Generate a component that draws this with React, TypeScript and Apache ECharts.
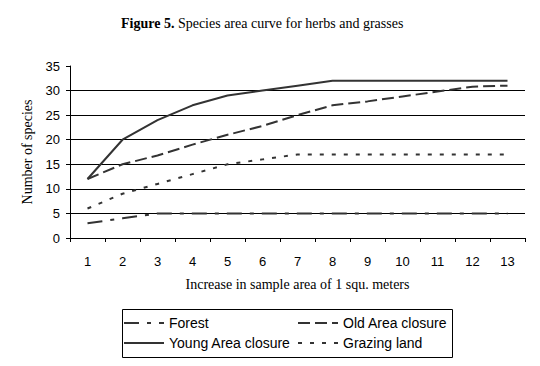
import React, { useEffect, useRef } from "react";
import * as echarts from "echarts";

const categories = ["1", "2", "3", "4", "5", "6", "7", "8", "9", "10", "11", "12", "13"];
const forest = [3, 4, 5, 5, 5, 5, 5, 5, 5, 5, 5, 5, 5];
const oldArea = [12, 15, 16.8, 19, 21, 22.8, 25, 27, 27.8, 28.8, 29.8, 30.8, 31];
const youngArea = [12, 20, 24, 27, 29, 30, 31, 32, 32, 32, 32, 32, 32];
const grazing = [6, 9, 11, 13, 15, 16, 17, 17, 17, 17, 17, 17, 17];
const yTicks = { min: 0, max: 35, interval: 5 };

const serif = "'Liberation Serif', 'Times New Roman', serif";
const sans = "'Liberation Sans', Arial, sans-serif";

export default function App() {
  const ref = useRef<HTMLDivElement>(null);
  useEffect(() => {
    if (!ref.current) return;
    const chart = echarts.init(ref.current, null, { renderer: "svg" });
    const mkSeries = (name: string, data: number[], type: any) => ({
      name,
      type: "line",
      data,
      symbol: "none",
      showSymbol: false,
      itemStyle: { color: "#333" },
      lineStyle: { color: "#333", width: 2, type },
    });
    const legendBase = {
      orient: "horizontal",
      padding: 0,
      itemWidth: 40,
      itemHeight: 14,
      itemStyle: { opacity: 0 },
      textStyle: { fontFamily: sans, fontSize: 14, color: "#000" },
    };
    chart.setOption({
      animation: false,
      backgroundColor: "#fff",
      title: {
        text: "{b|Figure 5.} {n|Species area curve for herbs and grasses}",
        left: 121,
        top: 16,
        padding: 0,
        textStyle: {
          fontWeight: "normal",
          fontFamily: serif,
          fontSize: 14,
          color: "#000",
          rich: {
            b: { fontFamily: serif, fontSize: 14, fontWeight: "bold", color: "#000" },
            n: { fontFamily: serif, fontSize: 14, fontWeight: "normal", color: "#000" },
          },
        },
      },
      grid: { left: 70, right: 15, top: 66, bottom: 128, containLabel: false },
      xAxis: {
        type: "category",
        data: categories,
        boundaryGap: true,
        name: "Increase in sample area of 1 squ. meters",
        nameLocation: "middle",
        nameGap: 39,
        nameTextStyle: { fontFamily: serif, fontSize: 14, color: "#000" },
        axisLine: { lineStyle: { color: "#000", width: 1 } },
        axisTick: { show: true, length: 4, lineStyle: { color: "#000" } },
        axisLabel: { fontFamily: sans, fontSize: 13, color: "#000", margin: 17 },
        splitLine: { show: false },
      },
      yAxis: {
        type: "value",
        min: yTicks.min,
        max: yTicks.max,
        interval: yTicks.interval,
        name: "Number of species",
        nameLocation: "middle",
        nameRotate: 90,
        nameGap: 35,
        nameTextStyle: { fontFamily: serif, fontSize: 14, color: "#000" },
        axisLine: { show: true, lineStyle: { color: "#000", width: 1 } },
        axisTick: { show: true, length: 4, lineStyle: { color: "#000" } },
        axisLabel: { fontFamily: sans, fontSize: 13, color: "#000", margin: 10 },
        splitLine: { show: true, showMaxLine: false, showMinLine: false, lineStyle: { color: "#000", width: 1 } },
      },
      legend: [
        { ...legendBase, data: ["Forest"], left: 123, top: 316 },
        { ...legendBase, data: ["Old Area closure"], left: 297, top: 316 },
        { ...legendBase, data: ["Young Area closure"], left: 123, top: 336 },
        { ...legendBase, data: ["Grazing land"], left: 297, top: 336 },
      ],
      graphic: [
        {
          type: "rect",
          shape: { x: 122.5, y: 309.5, width: 330, height: 48 },
          style: { fill: "none", stroke: "#000", lineWidth: 1 },
          silent: true,
        },
      ],
      series: [
        mkSeries("Forest", forest, [15, 8, 4, 8]),
        mkSeries("Old Area closure", oldArea, [12, 5]),
        mkSeries("Young Area closure", youngArea, "solid"),
        mkSeries("Grazing land", grazing, [4, 8]),
      ],
    });
    return () => chart.dispose();
  }, []);
  return <div ref={ref} style={{ width: 540, height: 366, position: "absolute", left: 0, top: 0 }} />;
}
